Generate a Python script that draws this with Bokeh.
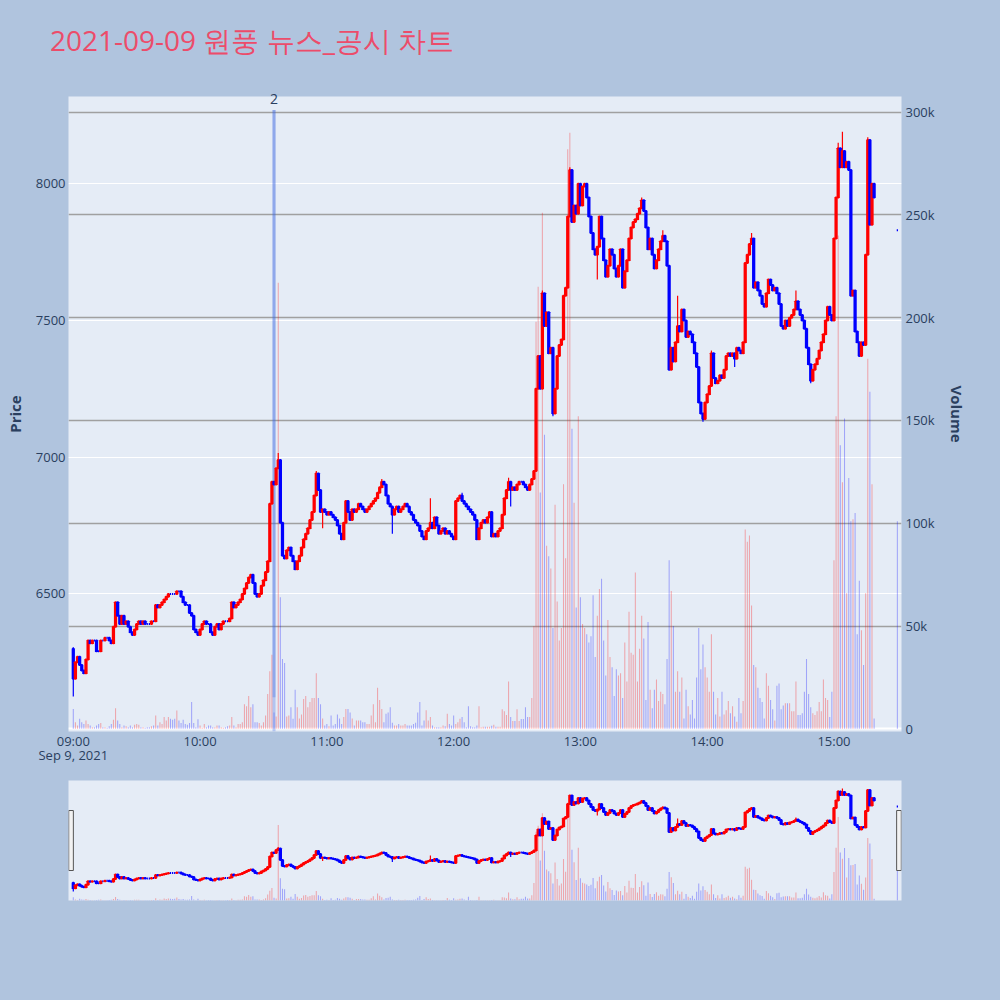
from bokeh.embed import file_html
from bokeh.layouts import column
from bokeh.models import ColumnDataSource, Div, FixedTicker, LinearAxis, Range1d
from bokeh.plotting import figure
from bokeh.resources import INLINE

chart_title = "2021-09-09 원풍 뉴스_공시 차트"
session_date = "Sep 9, 2021"

# one-minute closing prices (KRW) from 09:00
close = [
    6190, 6250, 6270, 6240, 6220, 6210, 6260, 6330, 6320, 6330,
    6330, 6290, 6290, 6330, 6330, 6340, 6340, 6330, 6320, 6380,
    6470, 6420, 6390, 6420, 6390, 6400, 6380, 6360, 6350, 6370,
    6390, 6400, 6390, 6400, 6390, 6390, 6390, 6400, 6400, 6460,
    6450, 6460, 6470, 6480, 6490, 6500, 6500, 6500, 6500, 6510,
    6510, 6490, 6470, 6460, 6460, 6430, 6420, 6370, 6360, 6350,
    6370, 6390, 6400, 6390, 6390, 6360, 6350, 6380, 6390, 6370,
    6390, 6400, 6400, 6400, 6410, 6470, 6450, 6460, 6470, 6480,
    6500, 6520, 6540, 6560, 6570, 6540, 6500, 6490, 6500, 6530,
    6550, 6580, 6620, 6830, 6910, 6900, 6960, 6990, 6760, 6640,
    6630, 6660, 6670, 6640, 6620, 6590, 6620, 6640, 6670, 6700,
    6720, 6740, 6770, 6800, 6860, 6940, 6880, 6800, 6810, 6800,
    6790, 6800, 6790, 6780, 6770, 6750, 6720, 6700, 6760, 6840,
    6800, 6770, 6810, 6800, 6810, 6830, 6820, 6810, 6800, 6810,
    6820, 6830, 6840, 6850, 6870, 6890, 6910, 6900, 6860, 6830,
    6820, 6790, 6810, 6820, 6800, 6810, 6820, 6830, 6820, 6800,
    6790, 6770, 6760, 6750, 6730, 6710, 6700, 6730, 6740, 6760,
    6740, 6780, 6750, 6720, 6730, 6740, 6720, 6730, 6720, 6710,
    6700, 6840, 6850, 6860, 6840, 6830, 6820, 6810, 6800, 6790,
    6770, 6700, 6740, 6760, 6770, 6760, 6780, 6800, 6710, 6720,
    6710, 6730, 6740, 6790, 6850, 6880, 6910, 6880, 6890, 6880,
    6900, 6910, 6910, 6900, 6890, 6880, 6900, 6920, 6950, 7250,
    7370, 7250, 7600, 7480, 7530, 7380, 7400, 7160, 7250, 7370,
    7410, 7430, 7590, 7620, 7880, 8050, 7860, 7920, 7890, 8000,
    7920, 7990, 8000, 7950, 7880, 7820, 7760, 7740, 7770, 7880,
    7800, 7720, 7660, 7700, 7760, 7740, 7690, 7660, 7700, 7760,
    7620, 7680, 7720, 7800, 7840, 7860, 7870, 7890, 7910, 7940,
    7900, 7840, 7760, 7800, 7740, 7690, 7720, 7760, 7790, 7810,
    7790, 7700, 7320, 7400, 7350, 7420, 7480, 7460, 7540, 7500,
    7440, 7460, 7450, 7420, 7380, 7330, 7200, 7160, 7140, 7200,
    7230, 7260, 7380, 7290, 7270, 7280, 7300, 7290, 7320, 7370,
    7380, 7370, 7380, 7360, 7400, 7390, 7380, 7420, 7710, 7740,
    7780, 7800, 7620, 7640, 7610, 7590, 7560, 7550, 7600, 7650,
    7630, 7610, 7620, 7600, 7560, 7480, 7470, 7500, 7480, 7510,
    7520, 7540, 7570, 7540, 7520, 7500, 7470, 7400, 7340, 7280,
    7320, 7340, 7360, 7390, 7420, 7450, 7500, 7550, 7520, 7500,
    7800, 7950, 8130, 8060, 8120, 8060, 8080, 8050, 7590, 7610,
    7460, 7420, 7370, 7420, 7410, 7740, 8160, 7850, 8000, 7950,
]

# one-minute volume, thousands of shares
volume_k = [
    9.7, 3.2, 1.6, 4.9, 3.2, 2.4, 4, 2.4, 1.6, 0.8,
    0.8, 1.6, 2.4, 2.8, 0.8, 0.8, 0.5, 1.2, 2.4, 4.4,
    10, 4, 2.4, 0.8, 1.6, 1.2, 0.8, 1.6, 0.8, 2,
    2.4, 2, 0.8, 0.8, 0.5, 0.8, 0.8, 1.2, 1.6, 6.5,
    1.6, 3.2, 2.4, 5.7, 4, 5.7, 4.9, 4.4, 4.9, 8.9,
    4, 2.8, 4.4, 2.4, 2, 2.8, 13, 2.8, 0.8, 4.7,
    1.6, 0.5, 2.4, 0.8, 1.6, 1.6, 0.8, 0.8, 1.6, 1.6,
    0.8, 0.5, 0.8, 1.2, 1.6, 5.7, 1.6, 0.8, 2.4, 2.4,
    3.2, 12, 11, 16, 10.5, 12, 3.2, 3.2, 2.8, 1.6,
    3.2, 6.5, 17, 28, 36, 8, 6, 217, 64, 34,
    32, 6, 6.5, 10.5, 4.9, 19, 10.5, 5, 7, 14.5,
    16, 10.5, 13, 15, 15, 27, 15, 12, 5, 1.6,
    2.4, 1.2, 6.5, 1.6, 2.4, 7, 5, 2.4, 5.7, 9.7,
    9.7, 8, 5, 1.6, 4, 4, 4, 3.2, 3.2, 2.4,
    2.4, 6.5, 12, 3.2, 20, 14, 9.7, 3.2, 7.3, 8,
    10.5, 3, 1.6, 1.6, 2.4, 1.6, 1.6, 2.4, 1.6, 1.6,
    1.6, 2.4, 3, 8, 13, 1.6, 4, 9, 4, 5.7,
    1.6, 0.8, 0.8, 0.8, 0.8, 1.6, 1.2, 7.3, 2.4, 1.6,
    6.5, 2.4, 3.2, 4.9, 5.7, 3.2, 0.8, 11, 1.2, 0.8,
    0.8, 1.6, 11, 0.8, 1, 1, 1, 1, 1.5, 2,
    1, 1, 1, 9.5, 8.6, 6.7, 23, 5.7, 3.8, 3.8,
    9.5, 3.8, 4.8, 4.8, 10.5, 5.7, 5.7, 15, 50, 198,
    215, 115, 251, 143, 89, 84, 78, 49, 109, 62,
    43, 49, 119, 83, 282, 290, 146, 110, 59, 152,
    64, 51, 49, 46, 42, 45, 65, 35, 55, 68,
    73, 43, 26, 53, 35, 30, 16, 29, 26, 27,
    15, 42, 23, 57, 37, 36, 76, 23, 39, 55,
    44, 14, 52, 19, 10, 19, 24, 13.5, 18, 17,
    12, 34, 82, 67, 50, 18, 28, 18, 25, 5,
    19, 11, 7, 14, 5, 25, 49, 29, 41, 30,
    25, 18, 46, 18, 7, 15, 6, 18, 7, 9,
    13.5, 7.6, 11, 6, 3.4, 15, 7.6, 13.5, 97, 91,
    94, 60, 31, 30, 20, 15, 13, 5, 27, 21,
    14, 9.5, 4, 21, 22, 9.5, 11.4, 12.4, 12.4, 12.4,
    8.6, 8.6, 23, 6.7, 6.7, 7.6, 18, 34, 17, 10.5,
    7.6, 6.7, 8.6, 13, 8.6, 24, 15, 14, 5.7, 18,
    82, 152, 240, 138, 120, 151, 66, 122, 101, 102,
    105, 46, 72, 48, 31, 66, 180, 164, 119, 5,
]

first_open = 6300
wick_hi = {0: 6305, 97: 7015, 115: 6950, 146: 6920, 169: 6850, 184: 6870, 206: 6925,
           222: 7610, 235: 8060, 269: 7950, 279: 7830, 286: 7590, 302: 7390, 321: 7820,
           342: 7610, 362: 8150, 364: 8190, 376: 8170, 377: 8100}
wick_lo = {0: 6125, 118: 6740, 151: 6720, 207: 6820, 227: 7150, 248: 7650, 298: 7130,
           313: 7330, 349: 7270}

auction_minute = 390      # 15:30 closing auction print
auction_price = 7830
auction_volume_k = 101

news_minute = 95          # 10:35 disclosure marker
news_count = "2"
news_top = 8270
news_low = 6122

hour_ticks = [0, 60, 120, 180, 240, 300, 360]
hour_labels = ["09:00", "10:00", "11:00", "12:00", "13:00", "14:00", "15:00"]
price_ticks = [6500, 7000, 7500, 8000]
volume_ticks = [0, 50, 100, 150, 200, 250, 300]

PAGE_BG = "#b0c4de"
PLOT_BG = "#e5ecf6"
INK = "#2a3f5f"
FONT = "Open Sans"
UP, DOWN = "#ff0000", "#0000ff"

opens = [first_open] + close[:-1] + [auction_price]
closes = close + [auction_price]
minutes = list(range(len(close))) + [auction_minute]
highs = [wick_hi.get(i, max(o, c)) for i, (o, c) in enumerate(zip(opens, closes))]
lows = [wick_lo.get(i, min(o, c)) for i, (o, c) in enumerate(zip(opens, closes))]
src = ColumnDataSource(dict(
    x=minutes,
    top=[max(o, c) for o, c in zip(opens, closes)],
    bottom=[min(o, c) for o, c in zip(opens, closes)],
    high=highs,
    low=lows,
    vol=volume_k + [auction_volume_k],
    color=[UP if c > o else DOWN for o, c in zip(opens, closes)],
))


def draw_volume(fig):
    fig.vbar(x="x", width=0.5, top="vol", bottom=0, fill_color="color", fill_alpha=0.3,
             line_color=None, source=src, y_range_name="vol")


def draw_candles(fig):
    fig.segment(x0="x", y0="low", x1="x", y1="high", line_color="color", line_width=1.2,
                source=src)
    fig.vbar(x="x", width=0.6, top="top", bottom="bottom", fill_color="color",
             line_color="color", line_width=2, source=src)


x_range = Range1d(-2.27, 391.96)

# title
head = Div(text=(f'<div style="padding:21px 0 0 50px; font-family:\'{FONT}\'; font-size:28px;'
                 f' line-height:38px; color:#ec4c6a; white-space:nowrap;">{chart_title}</div>'),
           width=1000, height=80, margin=(0, 0, 0, 0),
           styles={"background-color": PAGE_BG})

# main chart
p = figure(width=1000, height=700, x_range=x_range, y_range=Range1d(5997, 8319),
           output_backend="svg", toolbar_location=None, title=None,
           min_border_left=68, min_border_right=99, min_border_top=16, min_border_bottom=49,
           background_fill_color=PLOT_BG, border_fill_color=PAGE_BG, outline_line_color=None)
p.extra_y_ranges = {"vol": Range1d(-1.3, 307.6)}

p.xgrid.visible = False
p.ygrid.ticker = FixedTicker(ticks=price_ticks)
p.ygrid.grid_line_color = "white"
p.ygrid.grid_line_width = 1

p.hspan(y=volume_ticks[1:], y_range_name="vol", line_color="#a0a0a0", line_width=1.3)
p.hspan(y=volume_ticks[:1], y_range_name="vol", line_color="white", line_width=2)

draw_volume(p)
p.segment(x0=[news_minute, news_minute], y0=[p.y_range.start, news_low],
          x1=[news_minute, news_minute], y1=[news_top, news_top],
          line_color="royalblue", line_alpha=0.31, line_width=3)
draw_candles(p)

vax = LinearAxis(y_range_name="vol", ticker=FixedTicker(ticks=volume_ticks),
                 major_label_overrides={v: (f"{v}k" if v else "0") for v in volume_ticks},
                 axis_label="Volume")
p.add_layout(vax, "right")

date_axis = LinearAxis(ticker=FixedTicker(ticks=[0]), major_label_overrides={0: session_date})
p.add_layout(date_axis, "below")
news_axis = LinearAxis(ticker=FixedTicker(ticks=[news_minute]),
                       major_label_overrides={news_minute: news_count})
p.add_layout(news_axis, "above")

hour_axis = p.below[0]
hour_axis.ticker = FixedTicker(ticks=hour_ticks)
hour_axis.major_label_overrides = dict(zip(hour_ticks, hour_labels))
price_axis = p.left[0]
price_axis.ticker = FixedTicker(ticks=price_ticks)
price_axis.axis_label = "Price"

for ax in p.xaxis + p.yaxis:
    ax.axis_line_color = None
    ax.major_tick_line_color = None
    ax.minor_tick_line_color = None
    ax.major_tick_in = 0
    ax.major_tick_out = 0
    ax.major_label_text_font = FONT
    ax.major_label_text_font_size = "13px"
    ax.major_label_text_color = INK
    ax.axis_label_text_font = FONT
    ax.axis_label_text_font_size = "15px"
    ax.axis_label_text_font_style = "bold"
    ax.axis_label_text_color = INK

hour_axis.major_label_standoff = 0
date_axis.major_label_standoff = -7
news_axis.major_label_standoff = -7
news_axis.major_label_text_font_size = "14px"
price_axis.major_label_standoff = 3
price_axis.axis_label_standoff = 8
vax.major_label_standoff = 4
vax.axis_label_standoff = 9

# range slider strip
s = figure(width=1000, height=220, x_range=x_range, y_range=Range1d(5947, 8350),
           output_backend="svg", toolbar_location=None, title=None,
           x_axis_location=None, y_axis_location=None,
           min_border_left=68, min_border_right=99, min_border_top=0, min_border_bottom=100,
           background_fill_color=PLOT_BG, border_fill_color=PAGE_BG, outline_line_color=None)
s.extra_y_ranges = {"vol": Range1d(0, 345)}
s.grid.visible = False
draw_volume(s)
draw_candles(s)

mid = (s.y_range.start + s.y_range.end) / 2
span = (s.y_range.end - s.y_range.start) / 2
s.rect(x=[x_range.start + 1.2, x_range.end - 1.2], y=[mid, mid], width=2.2, height=span,
       fill_color="#f2f2f2", line_color="#555555", line_width=1)

page = column(head, p, s, spacing=0, styles={"background-color": PAGE_BG})
open("out.html", "w").write(file_html(page, INLINE))
